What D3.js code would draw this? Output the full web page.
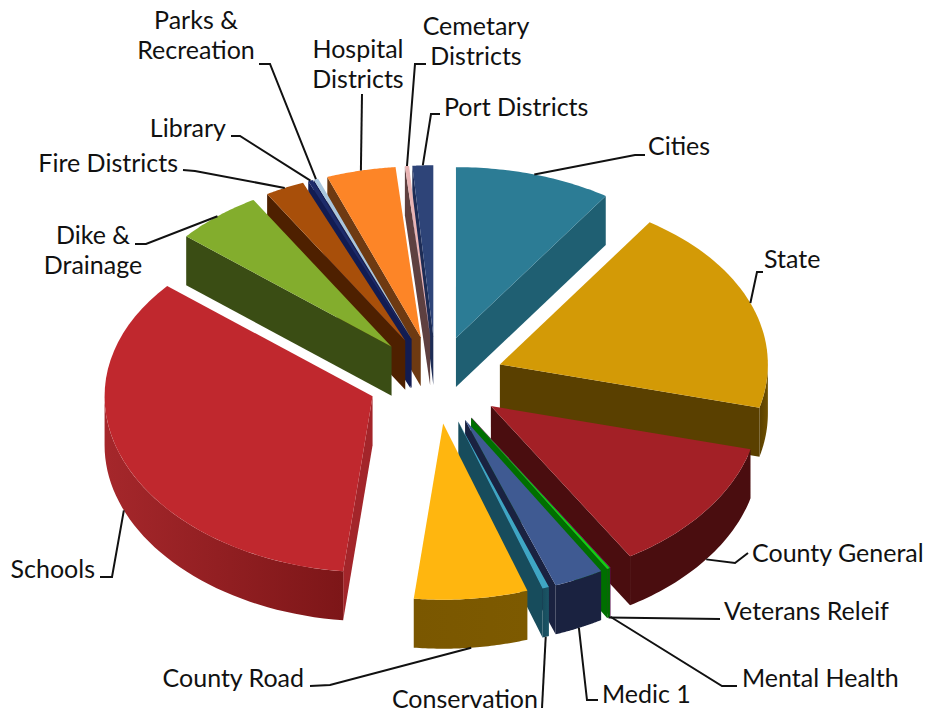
<!DOCTYPE html>
<html><head><meta charset="utf-8">
<script src="https://cdn.jsdelivr.net/npm/d3@7"></script>
<style>html,body{margin:0;padding:0;background:#fff}svg{display:block}text{font-family:Lato,sans-serif;font-size:25px;fill:#111}</style>
</head><body><svg id="c" width="932" height="713"></svg>
<script>
const categories=["Cities","State","County General","Mental Health","Veterans Releif","Medic 1","Conservation","County Road","Schools","Dike & Drainage","Fire Districts","Library","Parks & Recreation","Hospital Districts","Cemetary Districts","Port Districts"];
const values=[9.44,19.56,12.32,0.02,0.19,2.99,0.4,6.84,34.36,5.28,2.39,0.28,0.28,4.17,0.25,1.25];
const topColors=["#2c7c95","#d39a06","#a32026","#c02aa0","#12d012","#3f5a92","#3fa6c4","#ffb60f","#c0282e","#83ad2d","#a84f0a","#1d2b6a","#a9c6de","#fd8527","#e9b4b4","#2e4478"];
const faceColors=["#1f5f72","#5a4000","#4a0d0f","#5a1050","#006f00","#1a2240","#174c5c","#7a5700","#a3252a","#3a4d14","#4e2000","#121c52","#121c52","#6e3a12","#5e4040","#1d2c55"];
const wallLeft=["#1f5f72","#5a4000","#4a0d0f","#5a1050","#006f00","#1a2240","#174c5c","#7a5700","#a5272b","#3a4d14","#4e2000","#121c52","#121c52","#6e3a12","#5e4040","#1d2c55"];
const wallRight=["#1f5f72","#6f5000","#4a0d0f","#5a1050","#006f00","#1a2240","#1b5566","#7d5a00","#7d1618","#3a4d14","#4e2000","#121c52","#121c52","#6e3a12","#5e4040","#1d2c55"];
const leaderElbows=[[[635,155],[645,155]],[[757,272],[763,272]],[[735,563],[748,553]],[[722,686],[737,686]],[[720,619]],[[587,700],[598,700]],[[542,708]],[[330,685],[310,686]],[[112,577],[100,577]],[[146,244],[135,244]],[[195,171],[183,170]],[[240,136],[231,136]],[[270,64],[259,64]],[[362,94]],[[415,64],[426,64]],[[431,114],[440,114]]];
const labelLines=[["Cities"],["State"],["County General"],["Mental Health"],["Veterans Releif"],["Medic 1"],["Conservation"],["County Road"],["Schools"],["Dike &","Drainage"],["Fire Districts"],["Library"],["Parks &","Recreation"],["Hospital","Districts"],["Cemetary","Districts"],["Port Districts"]];
const labelAt=[[648,155,"start"],[764,268,"start"],[752,562,"start"],[742,687,"start"],[724,620,"start"],[602,703,"start"],[538,708,"end"],[304,687,"end"],[95,578,"end"],[93,244,"middle"],[178,172,"end"],[226,137,"end"],[196,29,"middle"],[358,58,"middle"],[476,35,"middle"],[444,116,"start"]];

const rx=268, ry=173.5, persp=0.015, cx=436, cy=380, explode=0.255, depth=49;
const svg=d3.select("#c"), defs=svg.append("defs");
const pie=d3.pie().sort(null).startAngle(0).endAngle(2*Math.PI);
const arcs=pie(values).map((d,i)=>{
  const m=(d.startAngle+d.endAngle)/2;
  return {i,a0:d.startAngle,a1:d.endAngle,m,ax:cx+rx*explode*Math.sin(m),ay:cy-172*explode*Math.cos(m)};
});
const P=(s,a,h=0)=>{const c=Math.cos(a);return [s.ax+rx*Math.sin(a),s.ay-ry*c*(1-persp*c)+h];};
const line=d3.line();
const samples=(a,b)=>d3.range(0,41).map(k=>a+(b-a)*k/40);
const order=arcs.slice().sort((p,q)=>(p.ay-q.ay));
const PI=Math.PI;
order.forEach(s=>{
  const g=svg.append("g"), face=faceColors[s.i];
  if(Math.sin(s.a0)<0){
    const e=P(s,s.a0);
    g.append("path").attr("fill",face).attr("d",line([[s.ax,s.ay],e,[e[0],e[1]+depth],[s.ax,s.ay+depth]])+"Z");
  }
  if(Math.sin(s.a1)>0){
    const e=P(s,s.a1);
    g.append("path").attr("fill",face).attr("d",line([[s.ax,s.ay],e,[e[0],e[1]+depth],[s.ax,s.ay+depth]])+"Z");
  }
  const w0=Math.max(s.a0,PI/2), w1=Math.min(s.a1,3*PI/2);
  if(w1>w0){
    const pts=samples(w0,w1), id="w"+s.i;
    const xs=pts.map(a=>P(s,a)[0]);
    const gr=defs.append("linearGradient").attr("id",id).attr("gradientUnits","userSpaceOnUse")
      .attr("x1",d3.min(xs)).attr("x2",d3.max(xs)).attr("y1",0).attr("y2",0);
    gr.append("stop").attr("offset",0).attr("stop-color",wallLeft[s.i]);
    gr.append("stop").attr("offset",1).attr("stop-color",wallRight[s.i]);
    g.append("path").attr("fill",`url(#${id})`)
      .attr("d",line(pts.map(a=>P(s,a)).concat(pts.slice().reverse().map(a=>P(s,a,depth))))+"Z");
  }
  g.append("path").attr("fill",topColors[s.i])
    .attr("d",line([[s.ax,s.ay]].concat(samples(s.a0,s.a1).map(a=>P(s,a))))+"Z");
});
arcs.forEach(s=>{
  const start=P(s,s.m,Math.cos(s.m)<0?depth:0);
  svg.append("path").attr("fill","none").attr("stroke","#111").attr("stroke-width",2)
    .attr("d",line([start].concat(leaderElbows[s.i])));
});
arcs.forEach(s=>{
  const [x,y,anchor]=labelAt[s.i], lines=labelLines[s.i];
  const t=svg.append("text").attr("text-anchor",anchor).attr("x",x).attr("y",y);
  lines.forEach((l,k)=>t.append("tspan").attr("x",x).attr("dy",k?30:0).text(l));
});
</script></body></html>
